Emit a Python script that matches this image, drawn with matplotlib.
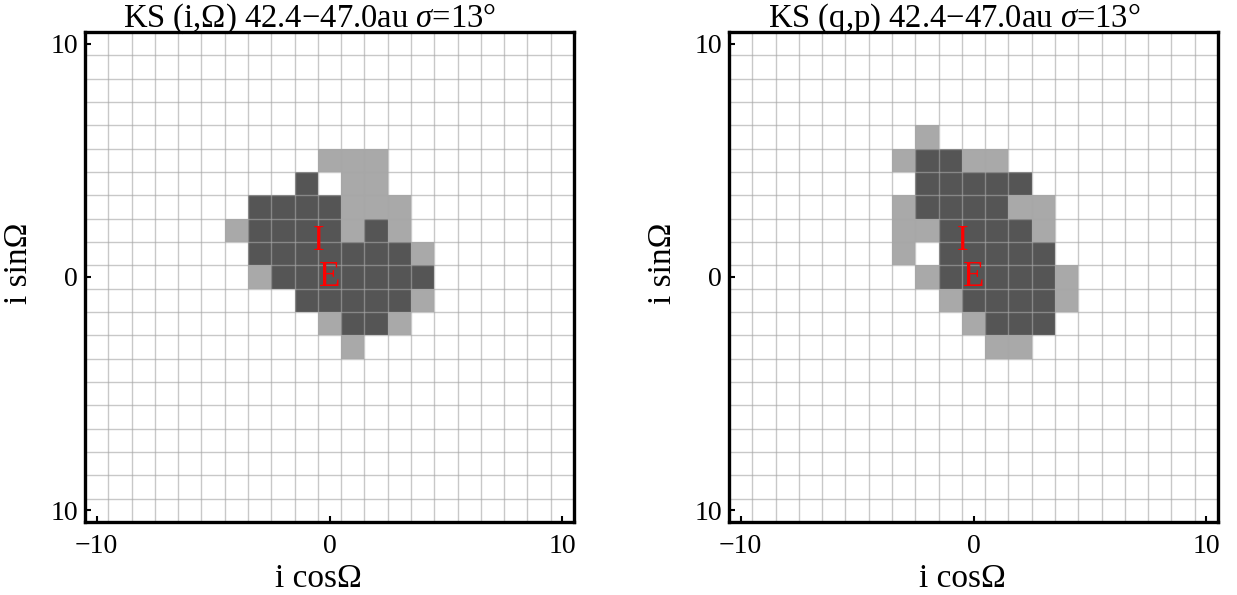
import numpy as np
import matplotlib
matplotlib.use('Agg')
import matplotlib.pyplot as plt
from matplotlib.colors import ListedColormap
from matplotlib.transforms import Bbox

plt.rcParams['font.family'] = ['Liberation Serif', 'DejaVu Serif']
plt.rcParams['mathtext.fontset'] = 'custom'
plt.rcParams['mathtext.rm'] = 'Liberation Serif'
plt.rcParams['mathtext.it'] = 'Liberation Serif:italic'

# cell states: 0 = empty, 1 = light gray, 2 = dark gray
# window of cells: columns x = -4..4, rows y = 6..-3 (top to bottom)
cell_x = list(range(-4, 5))
cell_y = list(range(6, -4, -1))

ks_inc_node = [
    [0, 0, 0, 0, 0, 0, 0, 0, 0],
    [0, 0, 0, 0, 1, 1, 1, 0, 0],
    [0, 0, 0, 2, 0, 1, 1, 0, 0],
    [0, 2, 2, 2, 2, 1, 1, 1, 0],
    [1, 2, 2, 2, 2, 1, 2, 1, 0],
    [0, 2, 2, 2, 2, 2, 2, 2, 1],
    [0, 1, 2, 2, 2, 2, 2, 2, 2],
    [0, 0, 0, 2, 2, 2, 2, 2, 1],
    [0, 0, 0, 0, 1, 2, 2, 1, 0],
    [0, 0, 0, 0, 0, 1, 0, 0, 0],
]

ks_qp = [
    [0, 0, 1, 0, 0, 0, 0, 0, 0],
    [0, 1, 2, 2, 1, 1, 0, 0, 0],
    [0, 0, 2, 2, 2, 2, 2, 0, 0],
    [0, 1, 2, 2, 2, 2, 1, 1, 0],
    [0, 1, 1, 2, 2, 2, 2, 1, 0],
    [0, 1, 0, 2, 2, 2, 2, 2, 0],
    [0, 0, 1, 2, 2, 2, 2, 2, 1],
    [0, 0, 0, 1, 2, 2, 2, 2, 1],
    [0, 0, 0, 0, 1, 2, 2, 2, 0],
    [0, 0, 0, 0, 0, 1, 1, 0, 0],
]

titles = ['KS (i,Ω) 42.4\u221247.0au $\\sigma$=13°',
          'KS (q,p) 42.4\u221247.0au $\\sigma$=13°']

# plane poles: invariable plane (I) and ecliptic (E)
pole_names = ['I', 'E']
pole_x = [-0.45, 0.02]
pole_y = [1.5, 0.0]

tick_vals = [-10, 0, 10]
xtick_labels = ['\u221210', '0', '10']
ytick_labels = ['10', '0', '10']

W, H = 1237, 595
fig = plt.figure(figsize=(W / 100, H / 100), dpi=100)
cmap = ListedColormap(['#a9a9a9', '#555555'])

panels = [(85, ks_inc_node, titles[0]), (729, ks_qp, titles[1])]
for left, grid, title in panels:
    ax = fig.add_axes([left / W, 1 - 522 / H, 489 / W, 490 / H])
    z = np.ma.masked_equal(np.array(grid), 0)
    xe = np.arange(cell_x[0] - 0.5, cell_x[-1] + 1.0)
    ye = np.arange(cell_y[0] + 0.5, cell_y[-1] - 1.0, -1)
    ax.pcolormesh(xe, ye, z, cmap=cmap, vmin=1, vmax=2,
                  edgecolors='none', zorder=1)
    ax.set_xlim(-10.45, 10.5)
    ax.set_ylim(-10.5, 10.47)

    # mesh drawn over the cells, semi-transparent so it shows lighter on dark cells
    half = np.arange(-10.5, 11.0, 1.0)
    ax.set_xticks(half, minor=True)
    ax.set_yticks(half, minor=True)
    ax.grid(which='minor', color='#a7a7a7', alpha=0.62, linewidth=1.0)
    ax.tick_params(which='minor', length=0)
    ax.set_axisbelow(False)

    ax.set_xticks(tick_vals)
    ax.set_xticklabels(xtick_labels)
    ax.set_yticks(tick_vals)
    ax.set_yticklabels(ytick_labels)
    ax.tick_params(which='major', direction='in', length=4, width=1.5,
                   labelsize=20, pad=5)
    ax.tick_params(axis='x', which='major', pad=8.5)
    ax.xaxis.grid(False, which='major')
    ax.yaxis.grid(False, which='major')
    for lab in ax.get_xticklabels():
        lab.set_clip_box(Bbox([[0, H - 554], [W, H]]))
        lab.set_clip_on(True)
    for sp in ax.spines.values():
        sp.set_linewidth(2.4)
        sp.set_zorder(5)

    for name, px, py in zip(pole_names, pole_x, pole_y):
        ax.text(px, py, name, color='red', fontsize=25,
                ha='center', va='center', zorder=6)

    ax.set_xlabel('i cosΩ', fontsize=24)
    ax.set_ylabel('i sinΩ', fontsize=24)
    ax.xaxis.set_label_coords(0.477, -0.085)
    ax.yaxis.set_label_coords(-0.105, 0.529)

    fig.text((left + 225) / W, 1 - 27 / H, title, fontsize=23.5,
             ha='center', va='baseline')

fig.savefig('out.png', dpi=100)
